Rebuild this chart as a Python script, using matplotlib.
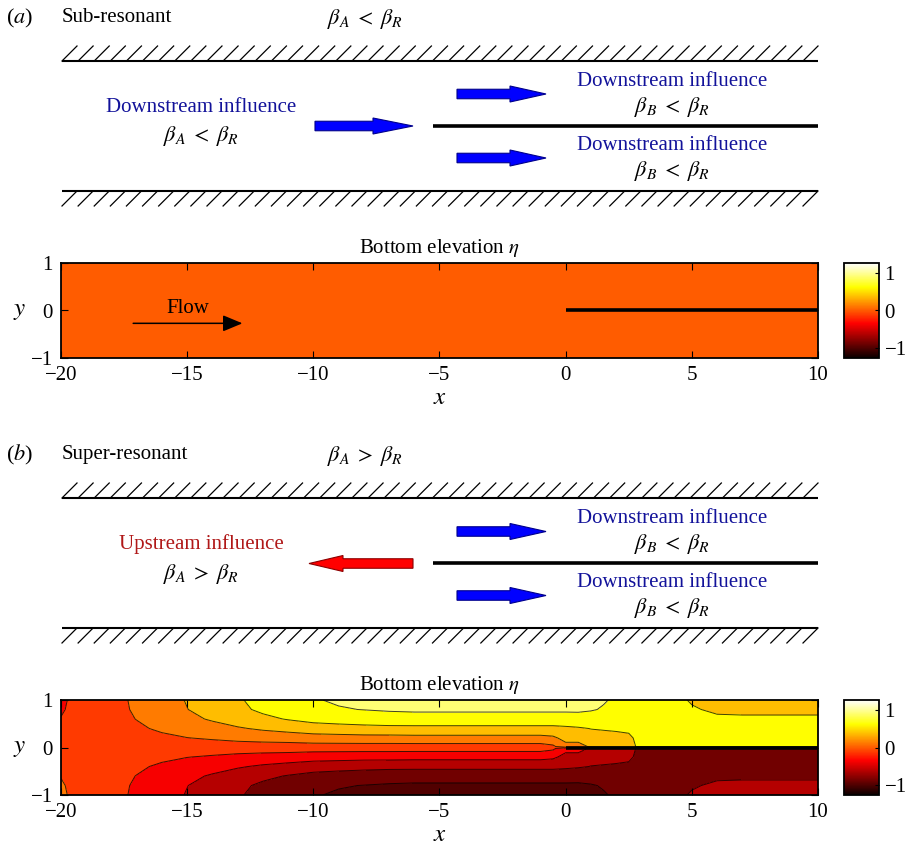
import matplotlib
matplotlib.use("Agg")
import matplotlib.pyplot as plt
import numpy as np
from matplotlib.colors import Normalize
from matplotlib.patches import FancyArrow
from matplotlib.cm import ScalarMappable

plt.rcParams["font.family"] = ["Liberation Serif", "DejaVu Serif"]
plt.rcParams["mathtext.fontset"] = "stix"
plt.rcParams["font.size"] = 15

# ---- data ----
x_grid = [-20, -19, -18, -17, -16, -15, -14, -13, -12, -11, -10, -9, -8, -7, -6, -5,
          -4, -3, -2, -1, -0.5, 0, 0.5, 1, 1.5, 2, 2.5, 3, 3.5, 4, 5, 6, 7, 8, 9, 10]
y_grid = [-1, -0.8, -0.6, -0.4, -0.2, -0.02, 0.02, 0.2, 0.4, 0.6, 0.8, 1]

# bottom elevation eta for panel (b), one row per y_grid value
eta_b = [
    [0.15, 0.05, -0.06, -0.16, -0.27, -0.39, -0.50, -0.60, -0.70, -0.79, -0.86, -0.90, -0.93, -0.95, -0.96, -0.96,
     -0.96, -0.96, -0.96, -0.96, -0.96, -0.96, -0.95, -0.92, -0.89, -0.85, -0.81, -0.77, -0.74, -0.69, -0.61, -0.57, -0.56, -0.56, -0.56, -0.56],
    [0.14, 0.05, -0.06, -0.15, -0.26, -0.37, -0.48, -0.57, -0.67, -0.75, -0.82, -0.86, -0.88, -0.90, -0.91, -0.91,
     -0.91, -0.91, -0.91, -0.91, -0.91, -0.91, -0.91, -0.89, -0.86, -0.83, -0.80, -0.77, -0.74, -0.70, -0.64, -0.60, -0.59, -0.59, -0.59, -0.59],
    [0.12, 0.04, -0.05, -0.13, -0.22, -0.32, -0.40, -0.49, -0.57, -0.64, -0.70, -0.73, -0.75, -0.77, -0.78, -0.78,
     -0.78, -0.78, -0.78, -0.78, -0.78, -0.78, -0.79, -0.79, -0.78, -0.77, -0.76, -0.75, -0.73, -0.71, -0.68, -0.65, -0.65, -0.65, -0.65, -0.65],
    [0.09, 0.03, -0.04, -0.09, -0.16, -0.23, -0.29, -0.35, -0.41, -0.46, -0.51, -0.53, -0.55, -0.56, -0.56, -0.56,
     -0.56, -0.56, -0.56, -0.56, -0.56, -0.58, -0.60, -0.63, -0.64, -0.65, -0.66, -0.72, -0.72, -0.72, -0.71, -0.70, -0.70, -0.70, -0.70, -0.70],
    [0.05, 0.02, -0.02, -0.05, -0.08, -0.12, -0.15, -0.19, -0.22, -0.24, -0.27, -0.28, -0.29, -0.29, -0.30, -0.30,
     -0.30, -0.30, -0.30, -0.30, -0.33, -0.45, -0.50, -0.55, -0.56, -0.57, -0.59, -0.69, -0.71, -0.72, -0.73, -0.73, -0.73, -0.73, -0.73, -0.73],
    [0.00, 0.00, 0.00, 0.00, -0.01, -0.01, -0.02, -0.02, -0.02, -0.02, -0.03, -0.03, -0.03, -0.03, -0.03, -0.03,
     -0.03, -0.03, -0.03, -0.03, -0.08, -0.30, -0.25, -0.42, -0.50, -0.54, -0.57, -0.67, -0.70, -0.72, -0.74, -0.75, -0.75, -0.75, -0.75, -0.75],
    [0.00, 0.00, 0.00, 0.00, 0.01, 0.01, 0.02, 0.02, 0.02, 0.02, 0.03, 0.03, 0.03, 0.03, 0.03, 0.03,
     0.03, 0.03, 0.03, 0.03, 0.08, 0.30, 0.25, 0.42, 0.50, 0.54, 0.57, 0.67, 0.70, 0.72, 0.74, 0.75, 0.75, 0.75, 0.75, 0.75],
    [-0.05, -0.02, 0.02, 0.05, 0.08, 0.12, 0.15, 0.19, 0.22, 0.24, 0.27, 0.28, 0.29, 0.29, 0.30, 0.30,
     0.30, 0.30, 0.30, 0.30, 0.33, 0.45, 0.50, 0.55, 0.56, 0.57, 0.59, 0.69, 0.71, 0.72, 0.73, 0.73, 0.73, 0.73, 0.73, 0.73],
    [-0.09, -0.03, 0.04, 0.09, 0.16, 0.23, 0.29, 0.35, 0.41, 0.46, 0.51, 0.53, 0.55, 0.56, 0.56, 0.56,
     0.56, 0.56, 0.56, 0.56, 0.56, 0.58, 0.60, 0.63, 0.64, 0.65, 0.66, 0.72, 0.72, 0.72, 0.71, 0.70, 0.70, 0.70, 0.70, 0.70],
    [-0.12, -0.04, 0.05, 0.13, 0.22, 0.32, 0.40, 0.49, 0.57, 0.64, 0.70, 0.73, 0.75, 0.77, 0.78, 0.78,
     0.78, 0.78, 0.78, 0.78, 0.78, 0.78, 0.79, 0.79, 0.78, 0.77, 0.76, 0.75, 0.73, 0.71, 0.68, 0.65, 0.65, 0.65, 0.65, 0.65],
    [-0.14, -0.05, 0.06, 0.15, 0.26, 0.37, 0.48, 0.57, 0.67, 0.75, 0.82, 0.86, 0.88, 0.90, 0.91, 0.91,
     0.91, 0.91, 0.91, 0.91, 0.91, 0.91, 0.91, 0.89, 0.86, 0.83, 0.80, 0.77, 0.74, 0.70, 0.64, 0.60, 0.59, 0.59, 0.59, 0.59],
    [-0.15, -0.05, 0.06, 0.16, 0.27, 0.39, 0.50, 0.60, 0.70, 0.79, 0.86, 0.90, 0.93, 0.95, 0.96, 0.96,
     0.96, 0.96, 0.96, 0.96, 0.96, 0.96, 0.95, 0.92, 0.89, 0.85, 0.81, 0.77, 0.74, 0.69, 0.61, 0.57, 0.56, 0.56, 0.56, 0.56],
]

# panel (a) has a flat bottom: one cell over the whole channel
x_edges_a = [-20, 10]
y_edges_a = [-1, 1]
eta_a = [[0.0]]

# the splitter plate in both maps
plate_x = [0, 10]
plate_y = [0, 0]

# "Flow" arrow in panel (a)
flow_start = (-17.25, -0.27)
flow_end = (-12.7, -0.27)

levels = [-1.5, -0.875, -0.625, -0.375, -0.125, 0.125, 0.375, 0.625, 0.875, 1.5]
band_values = [-1.0, -0.875, -0.625, -0.375, -0.125, 0.125, 0.375, 0.625, 0.92]
x_ticks = [-20, -15, -10, -5, 0, 5, 10]
y_ticks = [-1, 0, 1]
cbar_ticks = [-1, 0, 1]

norm = Normalize(vmin=-1.27, vmax=1.27)
cmap = plt.get_cmap("hot")

BLUE_TXT = "#12129a"
RED_TXT = "#b01818"

fig = plt.figure(figsize=(9.09, 8.47), dpi=100)

# ---- schematic drawn in pixel coordinates over the whole figure ----
sk = fig.add_axes([0, 0, 1, 1])
sk.set_xlim(0, 909)
sk.set_ylim(847, 0)
sk.axis("off")


def wall(y, side):
    sk.plot([62, 818], [y, y], color="k", lw=1.5, solid_capstyle="butt")
    for x0 in np.linspace(62, 803, 47):
        if side == "top":
            sk.plot([x0, x0 + 15], [y, y - 15], color="k", lw=0.9)
        else:
            sk.plot([x0, x0 + 15], [y + 15, y], color="k", lw=0.9)


def arrow(x_tail, x_tip, y, head_len, fc, ec):
    sk.add_patch(FancyArrow(x_tail, y, x_tip - x_tail, 0, width=9.5, head_width=16,
                            head_length=head_len, length_includes_head=True,
                            fc=fc, ec=ec, lw=0.8))


def channel(y_top, y_mid, y_bot, label, regime, beta_left, left_txt, left_col, upstream):
    sk.text(6, y_top - 43, "($" + label + "$)", fontsize=16, ha="left", va="center")
    sk.text(62, y_top - 43, regime, fontsize=15, ha="left", va="center")
    sk.text(327, y_top - 42, beta_left, fontsize=16, ha="left", va="center")
    wall(y_top, "top")
    wall(y_bot, "bottom")
    sk.plot([433, 818], [y_mid, y_mid], color="k", lw=2.6, solid_capstyle="butt")
    sk.text(201, y_mid - 19, left_txt, color=left_col, fontsize=15, ha="center", va="center")
    sk.text(201, y_mid + 10, beta_left, fontsize=16, ha="center", va="center")
    if upstream:
        arrow(413, 309, y_mid, 34, "#ff0000", "#8b0000")
    else:
        arrow(315, 413, y_mid, 40, "#0000ff", "#00008b")
    arrow(457, 546, y_mid - 32, 36, "#0000ff", "#00008b")
    arrow(457, 546, y_mid + 32, 36, "#0000ff", "#00008b")
    for dy in (-45, 19):
        sk.text(672, y_mid + dy, "Downstream influence", color=BLUE_TXT, fontsize=15,
                ha="center", va="center")
        sk.text(672, y_mid + dy + 26, r"$\beta_B\;<\;\beta_R$", fontsize=16,
                ha="center", va="center")


channel(61, 126, 191, "a", "Sub-resonant", r"$\beta_A\;<\;\beta_R$",
        "Downstream influence", BLUE_TXT, False)
channel(498, 563.5, 628, "b", "Super-resonant", r"$\beta_A\;>\;\beta_R$",
        "Upstream influence", RED_TXT, True)


# ---- bottom elevation maps ----
def style(ax):
    ax.set_xlim(-20, 10)
    ax.set_ylim(-1, 1)
    ax.set_xticks(x_ticks)
    ax.set_yticks(y_ticks)
    ax.tick_params(direction="in", top=True, right=True, length=5, width=0.8,
                   labelsize=15, pad=6)
    for sp in ax.spines.values():
        sp.set_linewidth(1.3)
    ax.set_title(r"Bottom elevation $\eta$", fontsize=15, pad=7)
    ax.set_xlabel("$x$", fontsize=18)
    ax.xaxis.label.set_va("center")
    ax.xaxis.set_label_coords(0.5, -0.42)
    ax.set_ylabel("$y$", fontsize=18, rotation=0, ha="center", va="center")
    ax.yaxis.set_label_coords(-0.055, 0.5)
    ax.plot(plate_x, plate_y, color="k", lw=2.6, solid_capstyle="butt")


def colorbar(rect):
    cax = fig.add_axes(rect)
    cb = fig.colorbar(ScalarMappable(norm=norm, cmap=cmap), cax=cax, ticks=cbar_ticks)
    cb.outline.set_linewidth(1.3)
    cax.tick_params(direction="in", length=3, width=0.8, labelsize=15, pad=4)
    return cb


ax_a = fig.add_axes([61 / 909, 1 - 358 / 847, 757 / 909, 95 / 847])
ax_a.pcolormesh(x_edges_a, y_edges_a, eta_a, cmap=cmap, norm=norm)
style(ax_a)
ax_a.annotate("", xy=flow_end, xytext=flow_start,
              arrowprops=dict(arrowstyle="-|>,head_length=0.6,head_width=0.25",
                              mutation_scale=20, lw=1.1, color="k"))
ax_a.text((flow_start[0] + flow_end[0]) / 2, 0.05, "Flow", fontsize=15,
          ha="center", va="center")
colorbar([844 / 909, 1 - 358 / 847, 35 / 909, 95 / 847])

ax_b = fig.add_axes([61 / 909, 1 - 795 / 847, 757 / 909, 95 / 847])
band_colors = cmap(norm(band_values))
ax_b.contourf(x_grid, y_grid, eta_b, levels=levels, colors=band_colors)
ax_b.contour(x_grid, y_grid, eta_b, levels=levels[1:-1], colors="k",
             linewidths=0.7, alpha=0.75, linestyles="solid")
style(ax_b)
colorbar([844 / 909, 1 - 795 / 847, 35 / 909, 95 / 847])

fig.savefig("out.png", dpi=100)
